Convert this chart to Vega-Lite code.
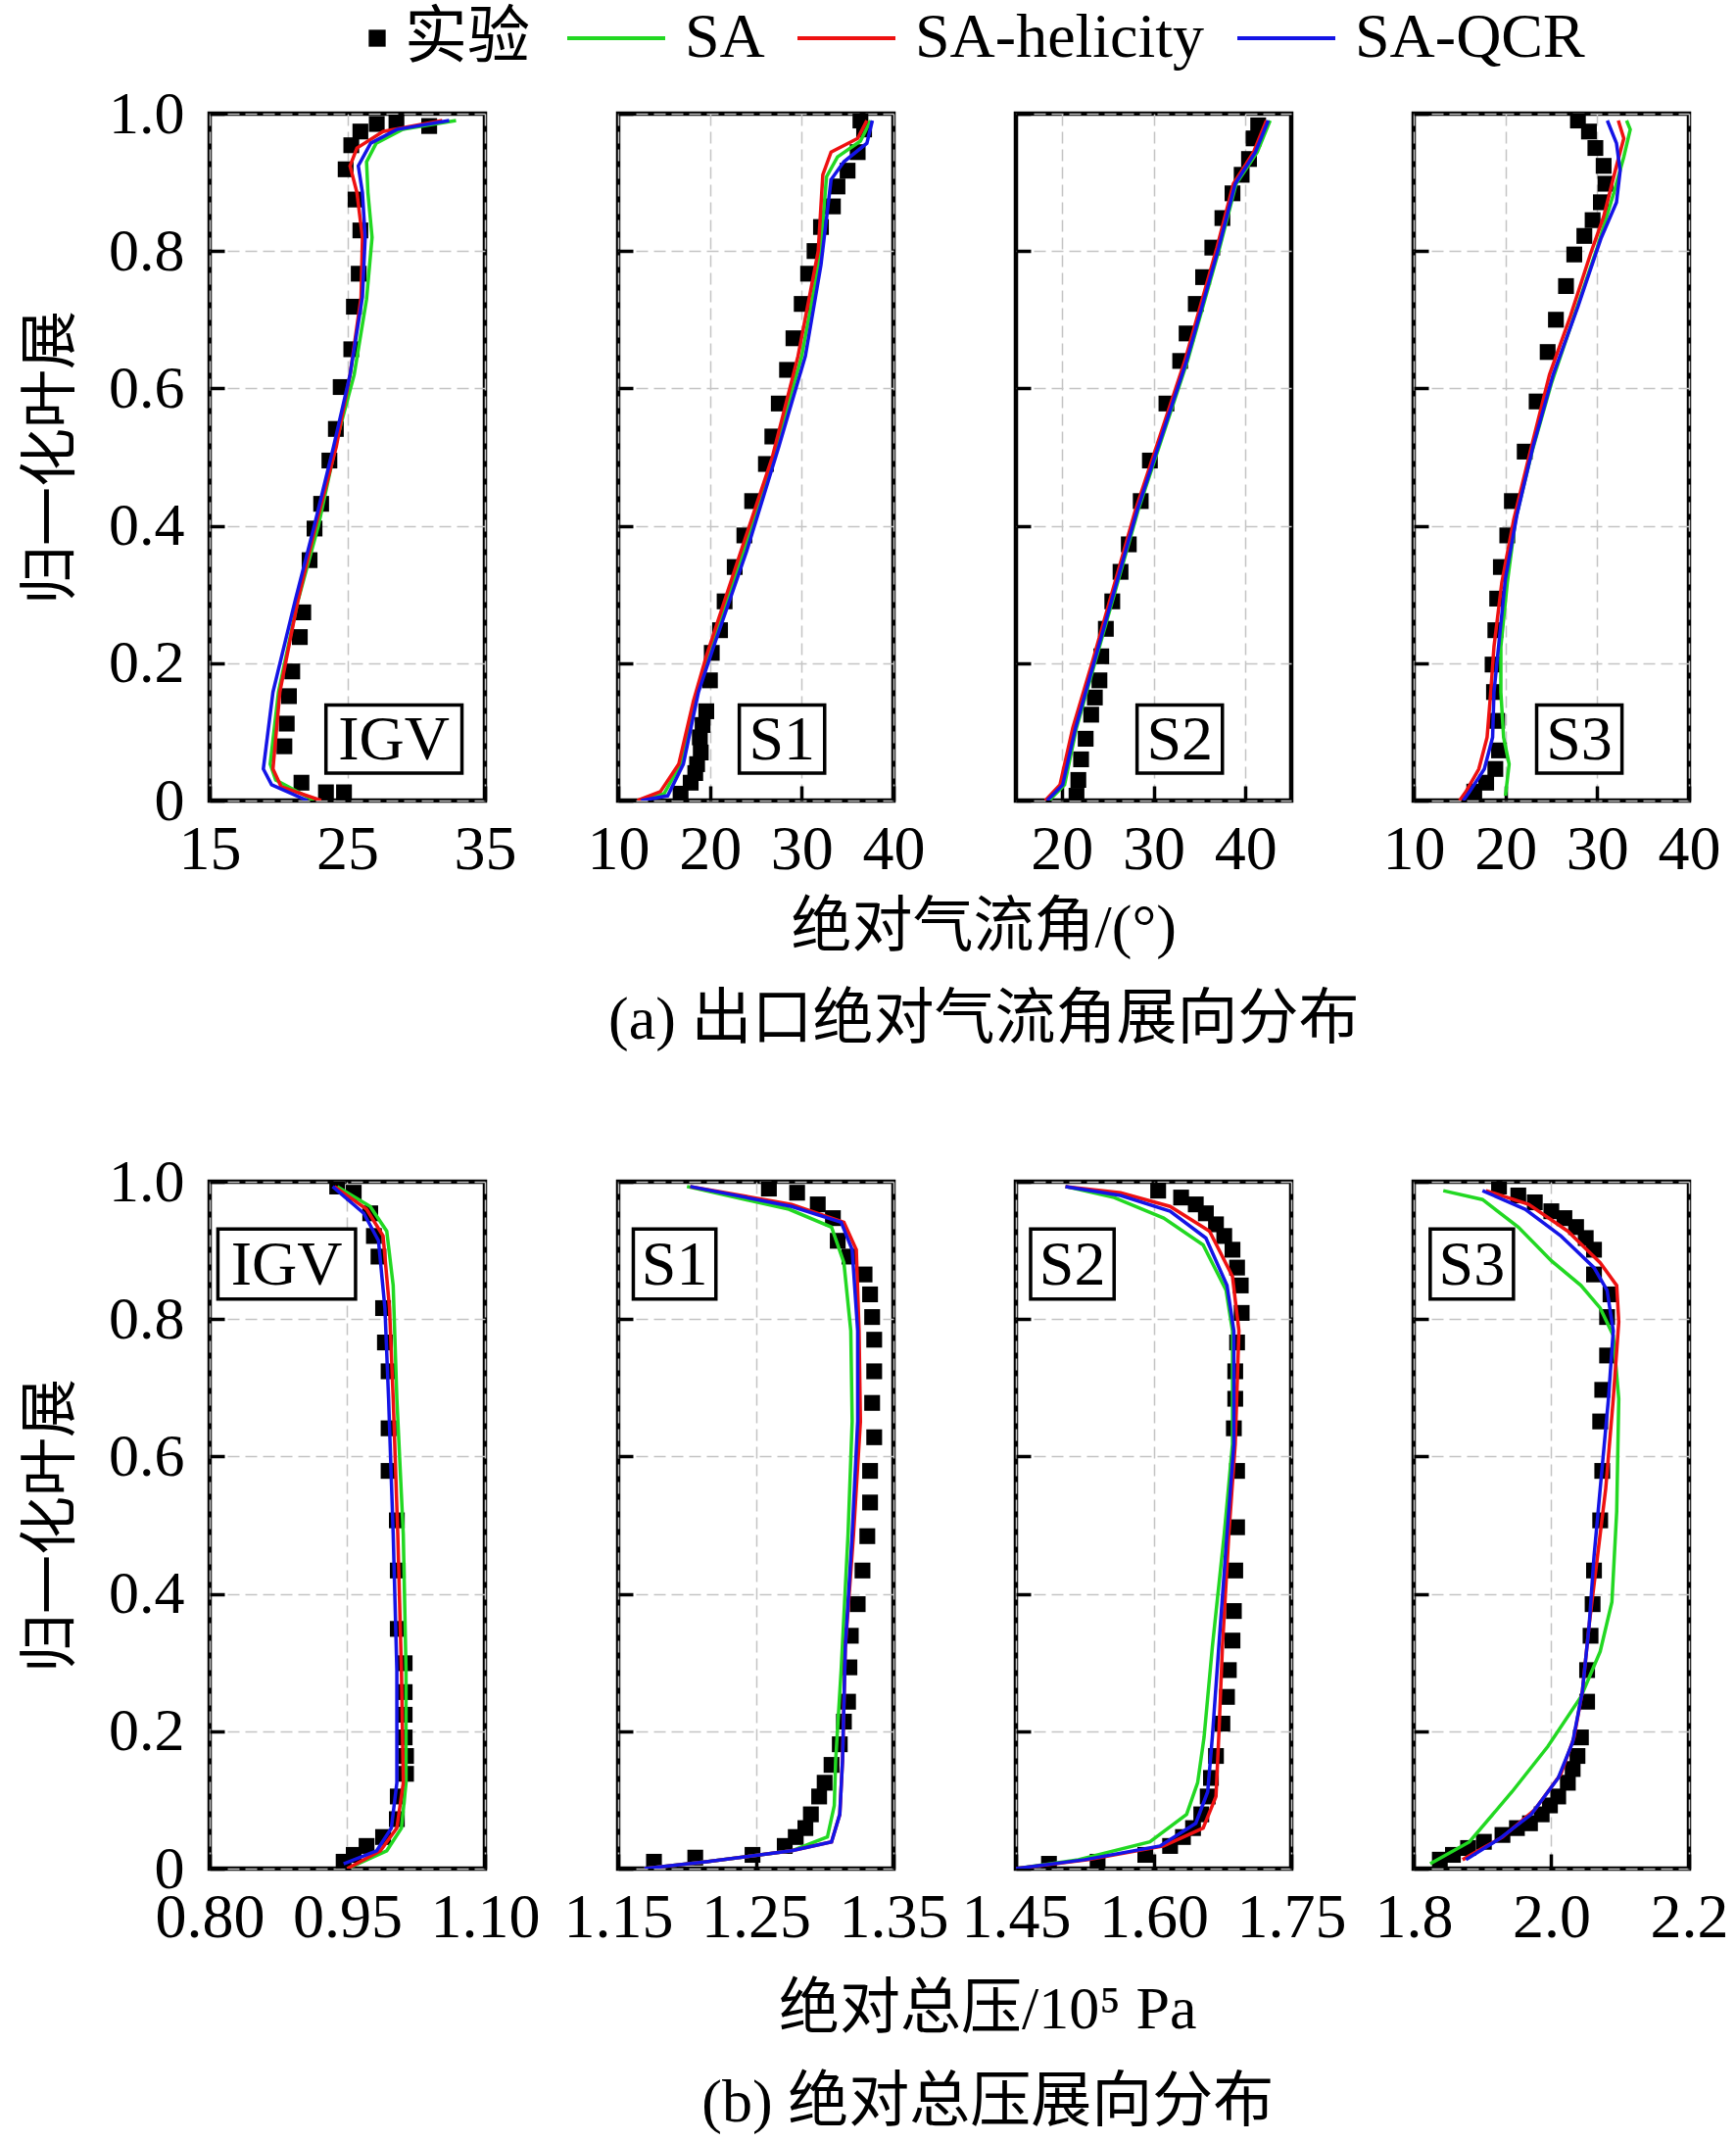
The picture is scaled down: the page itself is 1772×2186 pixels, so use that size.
{
  "$schema": "https://vega.github.io/schema/vega-lite/v6.json",
  "padding": {"left": 20, "top": 7, "right": 0, "bottom": 0},
  "background": "white",
  "datasets": {
    "a": [
      {"p":"IGV","s":"实验","x":24.76,"y":0.012},{"p":"IGV","s":"实验","x":23.45,"y":0.012},{"p":"IGV","s":"实验","x":21.67,"y":0.026},{"p":"IGV","s":"实验","x":20.43,"y":0.079},{"p":"IGV","s":"实验","x":20.6,"y":0.112},{"p":"IGV","s":"实验","x":20.76,"y":0.152},{"p":"IGV","s":"实验","x":21.0,"y":0.188},{"p":"IGV","s":"实验","x":21.55,"y":0.238},{"p":"IGV","s":"实验","x":21.8,"y":0.274},{"p":"IGV","s":"实验","x":22.26,"y":0.35},{"p":"IGV","s":"实验","x":22.62,"y":0.396},{"p":"IGV","s":"实验","x":23.1,"y":0.432},{"p":"IGV","s":"实验","x":23.7,"y":0.495},{"p":"IGV","s":"实验","x":24.17,"y":0.541},{"p":"IGV","s":"实验","x":24.52,"y":0.602},{"p":"IGV","s":"实验","x":25.29,"y":0.657},{"p":"IGV","s":"实验","x":25.48,"y":0.719},{"p":"IGV","s":"实验","x":25.83,"y":0.767},{"p":"IGV","s":"实验","x":25.95,"y":0.83},{"p":"IGV","s":"实验","x":25.6,"y":0.875},{"p":"IGV","s":"实验","x":24.88,"y":0.919},{"p":"IGV","s":"实验","x":25.29,"y":0.954},{"p":"IGV","s":"实验","x":25.95,"y":0.974},{"p":"IGV","s":"实验","x":27.14,"y":0.985},{"p":"IGV","s":"实验","x":28.57,"y":0.987},{"p":"IGV","s":"实验","x":30.95,"y":0.982},
      {"p":"IGV","s":"SA","x":22.6,"y":0},{"p":"IGV","s":"SA","x":19.8,"y":0.03},{"p":"IGV","s":"SA","x":19.4,"y":0.053},{"p":"IGV","s":"SA","x":20.0,"y":0.158},{"p":"IGV","s":"SA","x":21.4,"y":0.29},{"p":"IGV","s":"SA","x":22.9,"y":0.4},{"p":"IGV","s":"SA","x":24.3,"y":0.53},{"p":"IGV","s":"SA","x":25.5,"y":0.62},{"p":"IGV","s":"SA","x":26.4,"y":0.73},{"p":"IGV","s":"SA","x":26.8,"y":0.82},{"p":"IGV","s":"SA","x":26.5,"y":0.885},{"p":"IGV","s":"SA","x":26.4,"y":0.93},{"p":"IGV","s":"SA","x":27.1,"y":0.957},{"p":"IGV","s":"SA","x":29.0,"y":0.977},{"p":"IGV","s":"SA","x":32.9,"y":0.99},
      {"p":"IGV","s":"SA-helicity","x":23.1,"y":0},{"p":"IGV","s":"SA-helicity","x":20.2,"y":0.02},{"p":"IGV","s":"SA-helicity","x":19.6,"y":0.046},{"p":"IGV","s":"SA-helicity","x":20.1,"y":0.158},{"p":"IGV","s":"SA-helicity","x":21.4,"y":0.29},{"p":"IGV","s":"SA-helicity","x":22.7,"y":0.4},{"p":"IGV","s":"SA-helicity","x":24.2,"y":0.515},{"p":"IGV","s":"SA-helicity","x":25.2,"y":0.62},{"p":"IGV","s":"SA-helicity","x":26.0,"y":0.733},{"p":"IGV","s":"SA-helicity","x":26.1,"y":0.82},{"p":"IGV","s":"SA-helicity","x":25.7,"y":0.885},{"p":"IGV","s":"SA-helicity","x":25.2,"y":0.924},{"p":"IGV","s":"SA-helicity","x":25.7,"y":0.95},{"p":"IGV","s":"SA-helicity","x":27.6,"y":0.974},{"p":"IGV","s":"SA-helicity","x":31.9,"y":0.99},
      {"p":"IGV","s":"SA-QCR","x":22.1,"y":0},{"p":"IGV","s":"SA-QCR","x":19.5,"y":0.023},{"p":"IGV","s":"SA-QCR","x":18.9,"y":0.046},{"p":"IGV","s":"SA-QCR","x":19.6,"y":0.158},{"p":"IGV","s":"SA-QCR","x":21.2,"y":0.29},{"p":"IGV","s":"SA-QCR","x":22.6,"y":0.4},{"p":"IGV","s":"SA-QCR","x":24.0,"y":0.515},{"p":"IGV","s":"SA-QCR","x":25.2,"y":0.62},{"p":"IGV","s":"SA-QCR","x":26.1,"y":0.733},{"p":"IGV","s":"SA-QCR","x":26.3,"y":0.82},{"p":"IGV","s":"SA-QCR","x":26.1,"y":0.885},{"p":"IGV","s":"SA-QCR","x":25.8,"y":0.924},{"p":"IGV","s":"SA-QCR","x":26.7,"y":0.957},{"p":"IGV","s":"SA-QCR","x":28.6,"y":0.977},{"p":"IGV","s":"SA-QCR","x":32.4,"y":0.99},

      {"p":"S1","s":"实验","x":16.8,"y":0.01},{"p":"S1","s":"实验","x":17.9,"y":0.026},{"p":"S1","s":"实验","x":18.4,"y":0.04},{"p":"S1","s":"实验","x":18.6,"y":0.053},{"p":"S1","s":"实验","x":19.0,"y":0.07},{"p":"S1","s":"实验","x":18.9,"y":0.092},{"p":"S1","s":"实验","x":19.2,"y":0.11},{"p":"S1","s":"实验","x":19.6,"y":0.13},{"p":"S1","s":"实验","x":20.0,"y":0.175},{"p":"S1","s":"实验","x":20.2,"y":0.215},{"p":"S1","s":"实验","x":21.1,"y":0.248},{"p":"S1","s":"实验","x":21.6,"y":0.29},{"p":"S1","s":"实验","x":22.7,"y":0.34},{"p":"S1","s":"实验","x":23.75,"y":0.386},{"p":"S1","s":"实验","x":24.6,"y":0.436},{"p":"S1","s":"实验","x":26.1,"y":0.49},{"p":"S1","s":"实验","x":26.8,"y":0.53},{"p":"S1","s":"实验","x":27.5,"y":0.578},{"p":"S1","s":"实验","x":28.4,"y":0.627},{"p":"S1","s":"实验","x":29.1,"y":0.673},{"p":"S1","s":"实验","x":30.0,"y":0.723},{"p":"S1","s":"实验","x":30.7,"y":0.767},{"p":"S1","s":"实验","x":31.4,"y":0.8},{"p":"S1","s":"实验","x":32.1,"y":0.835},{"p":"S1","s":"实验","x":33.4,"y":0.865},{"p":"S1","s":"实验","x":33.9,"y":0.894},{"p":"S1","s":"实验","x":35.0,"y":0.917},{"p":"S1","s":"实验","x":36.1,"y":0.944},{"p":"S1","s":"实验","x":36.8,"y":0.977},{"p":"S1","s":"实验","x":36.4,"y":0.99},
      {"p":"S1","s":"SA","x":12.3,"y":0},{"p":"S1","s":"SA","x":15.0,"y":0.01},{"p":"S1","s":"SA","x":16.8,"y":0.053},{"p":"S1","s":"SA","x":18.4,"y":0.145},{"p":"S1","s":"SA","x":20.0,"y":0.218},{"p":"S1","s":"SA","x":23.6,"y":0.36},{"p":"S1","s":"SA","x":27.1,"y":0.508},{"p":"S1","s":"SA","x":30.0,"y":0.647},{"p":"S1","s":"SA","x":32.0,"y":0.792},{"p":"S1","s":"SA","x":32.7,"y":0.908},{"p":"S1","s":"SA","x":33.9,"y":0.937},{"p":"S1","s":"SA","x":36.4,"y":0.96},{"p":"S1","s":"SA","x":37.5,"y":0.99},
      {"p":"S1","s":"SA-helicity","x":12.1,"y":0},{"p":"S1","s":"SA-helicity","x":14.6,"y":0.013},{"p":"S1","s":"SA-helicity","x":16.6,"y":0.053},{"p":"S1","s":"SA-helicity","x":18.2,"y":0.145},{"p":"S1","s":"SA-helicity","x":19.6,"y":0.21},{"p":"S1","s":"SA-helicity","x":23.2,"y":0.356},{"p":"S1","s":"SA-helicity","x":26.8,"y":0.5},{"p":"S1","s":"SA-helicity","x":29.6,"y":0.647},{"p":"S1","s":"SA-helicity","x":31.8,"y":0.8},{"p":"S1","s":"SA-helicity","x":32.3,"y":0.911},{"p":"S1","s":"SA-helicity","x":33.2,"y":0.944},{"p":"S1","s":"SA-helicity","x":36.1,"y":0.964},{"p":"S1","s":"SA-helicity","x":37.1,"y":0.99},
      {"p":"S1","s":"SA-QCR","x":12.5,"y":0},{"p":"S1","s":"SA-QCR","x":15.4,"y":0.007},{"p":"S1","s":"SA-QCR","x":17.1,"y":0.053},{"p":"S1","s":"SA-QCR","x":18.75,"y":0.158},{"p":"S1","s":"SA-QCR","x":20.4,"y":0.224},{"p":"S1","s":"SA-QCR","x":24.0,"y":0.363},{"p":"S1","s":"SA-QCR","x":27.5,"y":0.515},{"p":"S1","s":"SA-QCR","x":30.4,"y":0.647},{"p":"S1","s":"SA-QCR","x":32.1,"y":0.78},{"p":"S1","s":"SA-QCR","x":33.2,"y":0.904},{"p":"S1","s":"SA-QCR","x":34.6,"y":0.93},{"p":"S1","s":"SA-QCR","x":37.1,"y":0.957},{"p":"S1","s":"SA-QCR","x":37.7,"y":0.99},

      {"p":"S2","s":"实验","x":21.6,"y":0.007},{"p":"S2","s":"实验","x":21.8,"y":0.03},{"p":"S2","s":"实验","x":22.1,"y":0.06},{"p":"S2","s":"实验","x":22.6,"y":0.09},{"p":"S2","s":"实验","x":23.2,"y":0.125},{"p":"S2","s":"实验","x":23.6,"y":0.15},{"p":"S2","s":"实验","x":24.1,"y":0.175},{"p":"S2","s":"实验","x":24.3,"y":0.21},{"p":"S2","s":"实验","x":24.8,"y":0.25},{"p":"S2","s":"实验","x":25.5,"y":0.29},{"p":"S2","s":"实验","x":26.4,"y":0.333},{"p":"S2","s":"实验","x":27.3,"y":0.373},{"p":"S2","s":"实验","x":28.6,"y":0.436},{"p":"S2","s":"实验","x":29.6,"y":0.495},{"p":"S2","s":"实验","x":31.4,"y":0.578},{"p":"S2","s":"实验","x":32.9,"y":0.64},{"p":"S2","s":"实验","x":33.6,"y":0.68},{"p":"S2","s":"实验","x":34.6,"y":0.723},{"p":"S2","s":"实验","x":35.4,"y":0.762},{"p":"S2","s":"实验","x":36.4,"y":0.805},{"p":"S2","s":"实验","x":37.5,"y":0.848},{"p":"S2","s":"实验","x":38.6,"y":0.884},{"p":"S2","s":"实验","x":39.6,"y":0.911},{"p":"S2","s":"实验","x":40.4,"y":0.934},{"p":"S2","s":"实验","x":40.9,"y":0.964},{"p":"S2","s":"实验","x":41.4,"y":0.983},
      {"p":"S2","s":"SA","x":18.6,"y":0},{"p":"S2","s":"SA","x":20.3,"y":0.023},{"p":"S2","s":"SA","x":21.6,"y":0.106},{"p":"S2","s":"SA","x":23.7,"y":0.205},{"p":"S2","s":"SA","x":28.3,"y":0.422},{"p":"S2","s":"SA","x":33.7,"y":0.64},{"p":"S2","s":"SA","x":37.2,"y":0.805},{"p":"S2","s":"SA","x":39.0,"y":0.898},{"p":"S2","s":"SA","x":41.3,"y":0.944},{"p":"S2","s":"SA","x":42.7,"y":0.99},
      {"p":"S2","s":"SA-helicity","x":18.2,"y":0},{"p":"S2","s":"SA-helicity","x":19.8,"y":0.023},{"p":"S2","s":"SA-helicity","x":21.2,"y":0.106},{"p":"S2","s":"SA-helicity","x":23.4,"y":0.205},{"p":"S2","s":"SA-helicity","x":28.0,"y":0.422},{"p":"S2","s":"SA-helicity","x":33.4,"y":0.64},{"p":"S2","s":"SA-helicity","x":36.9,"y":0.805},{"p":"S2","s":"SA-helicity","x":38.7,"y":0.898},{"p":"S2","s":"SA-helicity","x":40.9,"y":0.944},{"p":"S2","s":"SA-helicity","x":42.3,"y":0.99},
      {"p":"S2","s":"SA-QCR","x":18.4,"y":0},{"p":"S2","s":"SA-QCR","x":20.1,"y":0.023},{"p":"S2","s":"SA-QCR","x":21.5,"y":0.106},{"p":"S2","s":"SA-QCR","x":23.6,"y":0.205},{"p":"S2","s":"SA-QCR","x":28.2,"y":0.422},{"p":"S2","s":"SA-QCR","x":33.6,"y":0.64},{"p":"S2","s":"SA-QCR","x":37.1,"y":0.805},{"p":"S2","s":"SA-QCR","x":38.9,"y":0.898},{"p":"S2","s":"SA-QCR","x":41.1,"y":0.944},{"p":"S2","s":"SA-QCR","x":42.5,"y":0.99},

      {"p":"S3","s":"实验","x":16.6,"y":0.013},{"p":"S3","s":"实验","x":17.9,"y":0.026},{"p":"S3","s":"实验","x":18.9,"y":0.046},{"p":"S3","s":"实验","x":19.3,"y":0.073},{"p":"S3","s":"实验","x":19.1,"y":0.116},{"p":"S3","s":"实验","x":18.75,"y":0.158},{"p":"S3","s":"实验","x":18.6,"y":0.198},{"p":"S3","s":"实验","x":18.9,"y":0.248},{"p":"S3","s":"实验","x":19.1,"y":0.294},{"p":"S3","s":"实验","x":19.5,"y":0.34},{"p":"S3","s":"实验","x":20.2,"y":0.386},{"p":"S3","s":"实验","x":20.7,"y":0.436},{"p":"S3","s":"实验","x":22.1,"y":0.508},{"p":"S3","s":"实验","x":23.4,"y":0.581},{"p":"S3","s":"实验","x":24.6,"y":0.653},{"p":"S3","s":"实验","x":25.5,"y":0.7},{"p":"S3","s":"实验","x":26.6,"y":0.749},{"p":"S3","s":"实验","x":27.5,"y":0.795},{"p":"S3","s":"实验","x":28.6,"y":0.822},{"p":"S3","s":"实验","x":29.5,"y":0.845},{"p":"S3","s":"实验","x":30.4,"y":0.871},{"p":"S3","s":"实验","x":30.9,"y":0.898},{"p":"S3","s":"实验","x":30.7,"y":0.924},{"p":"S3","s":"实验","x":29.8,"y":0.95},{"p":"S3","s":"实验","x":29.1,"y":0.974},{"p":"S3","s":"实验","x":27.9,"y":0.99},
      {"p":"S3","s":"SA","x":20.0,"y":0.007},{"p":"S3","s":"SA","x":20.4,"y":0.053},{"p":"S3","s":"SA","x":19.8,"y":0.092},{"p":"S3","s":"SA","x":19.5,"y":0.158},{"p":"S3","s":"SA","x":19.5,"y":0.224},{"p":"S3","s":"SA","x":20.2,"y":0.317},{"p":"S3","s":"SA","x":21.1,"y":0.409},{"p":"S3","s":"SA","x":22.9,"y":0.508},{"p":"S3","s":"SA","x":25.0,"y":0.607},{"p":"S3","s":"SA","x":27.5,"y":0.706},{"p":"S3","s":"SA","x":30.0,"y":0.805},{"p":"S3","s":"SA","x":31.8,"y":0.884},{"p":"S3","s":"SA","x":32.9,"y":0.937},{"p":"S3","s":"SA","x":33.6,"y":0.977},{"p":"S3","s":"SA","x":33.2,"y":0.99},
      {"p":"S3","s":"SA-helicity","x":15.0,"y":0},{"p":"S3","s":"SA-helicity","x":15.7,"y":0.013},{"p":"S3","s":"SA-helicity","x":17.1,"y":0.046},{"p":"S3","s":"SA-helicity","x":18.0,"y":0.092},{"p":"S3","s":"SA-helicity","x":18.4,"y":0.158},{"p":"S3","s":"SA-helicity","x":18.75,"y":0.224},{"p":"S3","s":"SA-helicity","x":19.6,"y":0.317},{"p":"S3","s":"SA-helicity","x":20.9,"y":0.409},{"p":"S3","s":"SA-helicity","x":22.7,"y":0.508},{"p":"S3","s":"SA-helicity","x":24.8,"y":0.62},{"p":"S3","s":"SA-helicity","x":27.1,"y":0.706},{"p":"S3","s":"SA-helicity","x":29.3,"y":0.797},{"p":"S3","s":"SA-helicity","x":30.7,"y":0.85},{"p":"S3","s":"SA-helicity","x":32.1,"y":0.924},{"p":"S3","s":"SA-helicity","x":32.9,"y":0.964},{"p":"S3","s":"SA-helicity","x":32.3,"y":0.99},
      {"p":"S3","s":"SA-QCR","x":15.4,"y":0},{"p":"S3","s":"SA-QCR","x":16.1,"y":0.013},{"p":"S3","s":"SA-QCR","x":17.7,"y":0.046},{"p":"S3","s":"SA-QCR","x":18.6,"y":0.092},{"p":"S3","s":"SA-QCR","x":18.75,"y":0.158},{"p":"S3","s":"SA-QCR","x":19.3,"y":0.231},{"p":"S3","s":"SA-QCR","x":20.0,"y":0.323},{"p":"S3","s":"SA-QCR","x":21.25,"y":0.416},{"p":"S3","s":"SA-QCR","x":23.0,"y":0.515},{"p":"S3","s":"SA-QCR","x":25.2,"y":0.62},{"p":"S3","s":"SA-QCR","x":27.9,"y":0.719},{"p":"S3","s":"SA-QCR","x":30.4,"y":0.818},{"p":"S3","s":"SA-QCR","x":32.1,"y":0.871},{"p":"S3","s":"SA-QCR","x":32.5,"y":0.917},{"p":"S3","s":"SA-QCR","x":32.1,"y":0.957},{"p":"S3","s":"SA-QCR","x":31.1,"y":0.99}
    ],
    "b": [
      {"p":"IGV","s":"实验","x":0.946,"y":0.01},{"p":"IGV","s":"实验","x":0.957,"y":0.02},{"p":"IGV","s":"实验","x":0.971,"y":0.033},{"p":"IGV","s":"实验","x":0.989,"y":0.046},{"p":"IGV","s":"实验","x":1.004,"y":0.072},{"p":"IGV","s":"实验","x":1.005,"y":0.105},{"p":"IGV","s":"实验","x":1.014,"y":0.138},{"p":"IGV","s":"实验","x":1.014,"y":0.164},{"p":"IGV","s":"实验","x":1.0125,"y":0.191},{"p":"IGV","s":"实验","x":1.0125,"y":0.224},{"p":"IGV","s":"实验","x":1.0125,"y":0.257},{"p":"IGV","s":"实验","x":1.0125,"y":0.299},{"p":"IGV","s":"实验","x":1.005,"y":0.349},{"p":"IGV","s":"实验","x":1.005,"y":0.434},{"p":"IGV","s":"实验","x":1.004,"y":0.507},{"p":"IGV","s":"实验","x":0.995,"y":0.579},{"p":"IGV","s":"实验","x":0.995,"y":0.641},{"p":"IGV","s":"实验","x":0.995,"y":0.724},{"p":"IGV","s":"实验","x":0.991,"y":0.766},{"p":"IGV","s":"实验","x":0.989,"y":0.816},{"p":"IGV","s":"实验","x":0.984,"y":0.891},{"p":"IGV","s":"实验","x":0.979,"y":0.921},{"p":"IGV","s":"实验","x":0.975,"y":0.954},{"p":"IGV","s":"实验","x":0.957,"y":0.984},{"p":"IGV","s":"实验","x":0.939,"y":0.993},
      {"p":"IGV","s":"SA","x":0.95,"y":0},{"p":"IGV","s":"SA","x":0.993,"y":0.026},{"p":"IGV","s":"SA","x":1.009,"y":0.059},{"p":"IGV","s":"SA","x":1.014,"y":0.125},{"p":"IGV","s":"SA","x":1.014,"y":0.289},{"p":"IGV","s":"SA","x":1.011,"y":0.487},{"p":"IGV","s":"SA","x":1.004,"y":0.684},{"p":"IGV","s":"SA","x":1.0,"y":0.849},{"p":"IGV","s":"SA","x":0.993,"y":0.928},{"p":"IGV","s":"SA","x":0.975,"y":0.964},{"p":"IGV","s":"SA","x":0.939,"y":0.993},
      {"p":"IGV","s":"SA-helicity","x":0.95,"y":0},{"p":"IGV","s":"SA-helicity","x":0.986,"y":0.026},{"p":"IGV","s":"SA-helicity","x":1.004,"y":0.059},{"p":"IGV","s":"SA-helicity","x":1.011,"y":0.125},{"p":"IGV","s":"SA-helicity","x":1.009,"y":0.289},{"p":"IGV","s":"SA-helicity","x":1.005,"y":0.487},{"p":"IGV","s":"SA-helicity","x":1.0,"y":0.684},{"p":"IGV","s":"SA-helicity","x":0.996,"y":0.816},{"p":"IGV","s":"SA-helicity","x":0.989,"y":0.921},{"p":"IGV","s":"SA-helicity","x":0.971,"y":0.96},{"p":"IGV","s":"SA-helicity","x":0.936,"y":0.993},
      {"p":"IGV","s":"SA-QCR","x":0.946,"y":0.007},{"p":"IGV","s":"SA-QCR","x":0.982,"y":0.026},{"p":"IGV","s":"SA-QCR","x":0.998,"y":0.059},{"p":"IGV","s":"SA-QCR","x":1.004,"y":0.125},{"p":"IGV","s":"SA-QCR","x":1.004,"y":0.289},{"p":"IGV","s":"SA-QCR","x":1.0,"y":0.487},{"p":"IGV","s":"SA-QCR","x":0.995,"y":0.684},{"p":"IGV","s":"SA-QCR","x":0.991,"y":0.816},{"p":"IGV","s":"SA-QCR","x":0.984,"y":0.914},{"p":"IGV","s":"SA-QCR","x":0.968,"y":0.954},{"p":"IGV","s":"SA-QCR","x":0.934,"y":0.993},

      {"p":"S1","s":"实验","x":1.176,"y":0.01},{"p":"S1","s":"实验","x":1.206,"y":0.016},{"p":"S1","s":"实验","x":1.2476,"y":0.02},{"p":"S1","s":"实验","x":1.271,"y":0.033},{"p":"S1","s":"实验","x":1.279,"y":0.046},{"p":"S1","s":"实验","x":1.286,"y":0.059},{"p":"S1","s":"实验","x":1.29,"y":0.079},{"p":"S1","s":"实验","x":1.296,"y":0.105},{"p":"S1","s":"实验","x":1.3,"y":0.125},{"p":"S1","s":"实验","x":1.305,"y":0.151},{"p":"S1","s":"实验","x":1.311,"y":0.181},{"p":"S1","s":"实验","x":1.314,"y":0.214},{"p":"S1","s":"实验","x":1.317,"y":0.243},{"p":"S1","s":"实验","x":1.318,"y":0.293},{"p":"S1","s":"实验","x":1.319,"y":0.339},{"p":"S1","s":"实验","x":1.324,"y":0.385},{"p":"S1","s":"实验","x":1.3275,"y":0.434},{"p":"S1","s":"实验","x":1.331,"y":0.484},{"p":"S1","s":"实验","x":1.333,"y":0.533},{"p":"S1","s":"实验","x":1.333,"y":0.579},{"p":"S1","s":"实验","x":1.336,"y":0.628},{"p":"S1","s":"实验","x":1.3345,"y":0.678},{"p":"S1","s":"实验","x":1.336,"y":0.724},{"p":"S1","s":"实验","x":1.336,"y":0.77},{"p":"S1","s":"实验","x":1.3345,"y":0.803},{"p":"S1","s":"实验","x":1.333,"y":0.836},{"p":"S1","s":"实验","x":1.329,"y":0.865},{"p":"S1","s":"实验","x":1.318,"y":0.891},{"p":"S1","s":"实验","x":1.3095,"y":0.914},{"p":"S1","s":"实验","x":1.306,"y":0.947},{"p":"S1","s":"实验","x":1.295,"y":0.967},{"p":"S1","s":"实验","x":1.28,"y":0.984},{"p":"S1","s":"实验","x":1.2595,"y":0.99},
      {"p":"S1","s":"SA","x":1.169,"y":0},{"p":"S1","s":"SA","x":1.214,"y":0.01},{"p":"S1","s":"SA","x":1.276,"y":0.026},{"p":"S1","s":"SA","x":1.302,"y":0.046},{"p":"S1","s":"SA","x":1.307,"y":0.092},{"p":"S1","s":"SA","x":1.308,"y":0.158},{"p":"S1","s":"SA","x":1.312,"y":0.289},{"p":"S1","s":"SA","x":1.317,"y":0.487},{"p":"S1","s":"SA","x":1.32,"y":0.651},{"p":"S1","s":"SA","x":1.319,"y":0.783},{"p":"S1","s":"SA","x":1.314,"y":0.882},{"p":"S1","s":"SA","x":1.305,"y":0.934},{"p":"S1","s":"SA","x":1.274,"y":0.96},{"p":"S1","s":"SA","x":1.2,"y":0.993},
      {"p":"S1","s":"SA-helicity","x":1.169,"y":0},{"p":"S1","s":"SA-helicity","x":1.214,"y":0.01},{"p":"S1","s":"SA-helicity","x":1.276,"y":0.026},{"p":"S1","s":"SA-helicity","x":1.305,"y":0.039},{"p":"S1","s":"SA-helicity","x":1.311,"y":0.079},{"p":"S1","s":"SA-helicity","x":1.313,"y":0.158},{"p":"S1","s":"SA-helicity","x":1.315,"y":0.322},{"p":"S1","s":"SA-helicity","x":1.321,"y":0.487},{"p":"S1","s":"SA-helicity","x":1.326,"y":0.651},{"p":"S1","s":"SA-helicity","x":1.325,"y":0.783},{"p":"S1","s":"SA-helicity","x":1.323,"y":0.901},{"p":"S1","s":"SA-helicity","x":1.314,"y":0.941},{"p":"S1","s":"SA-helicity","x":1.276,"y":0.967},{"p":"S1","s":"SA-helicity","x":1.2024,"y":0.993},
      {"p":"S1","s":"SA-QCR","x":1.169,"y":0},{"p":"S1","s":"SA-QCR","x":1.214,"y":0.01},{"p":"S1","s":"SA-QCR","x":1.276,"y":0.026},{"p":"S1","s":"SA-QCR","x":1.305,"y":0.039},{"p":"S1","s":"SA-QCR","x":1.311,"y":0.079},{"p":"S1","s":"SA-QCR","x":1.313,"y":0.158},{"p":"S1","s":"SA-QCR","x":1.315,"y":0.322},{"p":"S1","s":"SA-QCR","x":1.32,"y":0.487},{"p":"S1","s":"SA-QCR","x":1.324,"y":0.651},{"p":"S1","s":"SA-QCR","x":1.324,"y":0.783},{"p":"S1","s":"SA-QCR","x":1.32,"y":0.901},{"p":"S1","s":"SA-QCR","x":1.312,"y":0.941},{"p":"S1","s":"SA-QCR","x":1.276,"y":0.964},{"p":"S1","s":"SA-QCR","x":1.2024,"y":0.993},

      {"p":"S2","s":"实验","x":1.486,"y":0.007},{"p":"S2","s":"实验","x":1.539,"y":0.01},{"p":"S2","s":"实验","x":1.591,"y":0.02},{"p":"S2","s":"实验","x":1.618,"y":0.033},{"p":"S2","s":"实验","x":1.632,"y":0.046},{"p":"S2","s":"实验","x":1.643,"y":0.059},{"p":"S2","s":"实验","x":1.652,"y":0.079},{"p":"S2","s":"实验","x":1.659,"y":0.105},{"p":"S2","s":"实验","x":1.6625,"y":0.132},{"p":"S2","s":"实验","x":1.668,"y":0.164},{"p":"S2","s":"实验","x":1.675,"y":0.211},{"p":"S2","s":"实验","x":1.68,"y":0.25},{"p":"S2","s":"实验","x":1.682,"y":0.289},{"p":"S2","s":"实验","x":1.686,"y":0.332},{"p":"S2","s":"实验","x":1.6875,"y":0.375},{"p":"S2","s":"实验","x":1.689,"y":0.434},{"p":"S2","s":"实验","x":1.691,"y":0.497},{"p":"S2","s":"实验","x":1.691,"y":0.579},{"p":"S2","s":"实验","x":1.6875,"y":0.641},{"p":"S2","s":"实验","x":1.689,"y":0.684},{"p":"S2","s":"实验","x":1.689,"y":0.724},{"p":"S2","s":"实验","x":1.691,"y":0.766},{"p":"S2","s":"实验","x":1.696,"y":0.809},{"p":"S2","s":"实验","x":1.695,"y":0.849},{"p":"S2","s":"实验","x":1.691,"y":0.875},{"p":"S2","s":"实验","x":1.686,"y":0.901},{"p":"S2","s":"实验","x":1.677,"y":0.921},{"p":"S2","s":"实验","x":1.668,"y":0.938},{"p":"S2","s":"实验","x":1.657,"y":0.954},{"p":"S2","s":"实验","x":1.646,"y":0.967},{"p":"S2","s":"实验","x":1.63,"y":0.977},{"p":"S2","s":"实验","x":1.605,"y":0.987},
      {"p":"S2","s":"SA","x":1.45,"y":0},{"p":"S2","s":"SA","x":1.518,"y":0.013},{"p":"S2","s":"SA","x":1.596,"y":0.039},{"p":"S2","s":"SA","x":1.636,"y":0.079},{"p":"S2","s":"SA","x":1.648,"y":0.125},{"p":"S2","s":"SA","x":1.655,"y":0.191},{"p":"S2","s":"SA","x":1.664,"y":0.322},{"p":"S2","s":"SA","x":1.677,"y":0.487},{"p":"S2","s":"SA","x":1.686,"y":0.618},{"p":"S2","s":"SA","x":1.686,"y":0.783},{"p":"S2","s":"SA","x":1.679,"y":0.842},{"p":"S2","s":"SA","x":1.654,"y":0.908},{"p":"S2","s":"SA","x":1.611,"y":0.947},{"p":"S2","s":"SA","x":1.557,"y":0.977},{"p":"S2","s":"SA","x":1.504,"y":0.993},
      {"p":"S2","s":"SA-helicity","x":1.45,"y":0},{"p":"S2","s":"SA-helicity","x":1.529,"y":0.013},{"p":"S2","s":"SA-helicity","x":1.611,"y":0.033},{"p":"S2","s":"SA-helicity","x":1.654,"y":0.059},{"p":"S2","s":"SA-helicity","x":1.668,"y":0.105},{"p":"S2","s":"SA-helicity","x":1.671,"y":0.191},{"p":"S2","s":"SA-helicity","x":1.675,"y":0.322},{"p":"S2","s":"SA-helicity","x":1.682,"y":0.487},{"p":"S2","s":"SA-helicity","x":1.689,"y":0.618},{"p":"S2","s":"SA-helicity","x":1.693,"y":0.783},{"p":"S2","s":"SA-helicity","x":1.686,"y":0.862},{"p":"S2","s":"SA-helicity","x":1.661,"y":0.928},{"p":"S2","s":"SA-helicity","x":1.618,"y":0.964},{"p":"S2","s":"SA-helicity","x":1.564,"y":0.984},{"p":"S2","s":"SA-helicity","x":1.504,"y":0.993},
      {"p":"S2","s":"SA-QCR","x":1.45,"y":0},{"p":"S2","s":"SA-QCR","x":1.525,"y":0.013},{"p":"S2","s":"SA-QCR","x":1.607,"y":0.033},{"p":"S2","s":"SA-QCR","x":1.646,"y":0.066},{"p":"S2","s":"SA-QCR","x":1.659,"y":0.112},{"p":"S2","s":"SA-QCR","x":1.664,"y":0.191},{"p":"S2","s":"SA-QCR","x":1.671,"y":0.322},{"p":"S2","s":"SA-QCR","x":1.68,"y":0.487},{"p":"S2","s":"SA-QCR","x":1.6875,"y":0.618},{"p":"S2","s":"SA-QCR","x":1.6875,"y":0.783},{"p":"S2","s":"SA-QCR","x":1.68,"y":0.849},{"p":"S2","s":"SA-QCR","x":1.657,"y":0.918},{"p":"S2","s":"SA-QCR","x":1.618,"y":0.957},{"p":"S2","s":"SA-QCR","x":1.564,"y":0.98},{"p":"S2","s":"SA-QCR","x":1.504,"y":0.993},

      {"p":"S3","s":"实验","x":1.838,"y":0.013},{"p":"S3","s":"实验","x":1.857,"y":0.02},{"p":"S3","s":"实验","x":1.879,"y":0.03},{"p":"S3","s":"实验","x":1.902,"y":0.039},{"p":"S3","s":"实验","x":1.929,"y":0.049},{"p":"S3","s":"实验","x":1.95,"y":0.059},{"p":"S3","s":"实验","x":1.969,"y":0.066},{"p":"S3","s":"实验","x":1.986,"y":0.079},{"p":"S3","s":"实验","x":1.998,"y":0.092},{"p":"S3","s":"实验","x":2.01,"y":0.105},{"p":"S3","s":"实验","x":2.024,"y":0.125},{"p":"S3","s":"实验","x":2.031,"y":0.145},{"p":"S3","s":"实验","x":2.038,"y":0.164},{"p":"S3","s":"实验","x":2.043,"y":0.191},{"p":"S3","s":"实验","x":2.052,"y":0.243},{"p":"S3","s":"实验","x":2.052,"y":0.289},{"p":"S3","s":"实验","x":2.057,"y":0.339},{"p":"S3","s":"实验","x":2.06,"y":0.385},{"p":"S3","s":"实验","x":2.062,"y":0.434},{"p":"S3","s":"实验","x":2.071,"y":0.507},{"p":"S3","s":"实验","x":2.074,"y":0.579},{"p":"S3","s":"实验","x":2.071,"y":0.651},{"p":"S3","s":"实验","x":2.074,"y":0.697},{"p":"S3","s":"实验","x":2.081,"y":0.747},{"p":"S3","s":"实验","x":2.081,"y":0.803},{"p":"S3","s":"实验","x":2.086,"y":0.836},{"p":"S3","s":"实验","x":2.062,"y":0.865},{"p":"S3","s":"实验","x":2.062,"y":0.901},{"p":"S3","s":"实验","x":2.05,"y":0.918},{"p":"S3","s":"实验","x":2.036,"y":0.934},{"p":"S3","s":"实验","x":2.019,"y":0.947},{"p":"S3","s":"实验","x":2.0,"y":0.957},{"p":"S3","s":"实验","x":1.976,"y":0.97},{"p":"S3","s":"实验","x":1.952,"y":0.98},{"p":"S3","s":"实验","x":1.924,"y":0.993},
      {"p":"S3","s":"SA","x":1.824,"y":0.007},{"p":"S3","s":"SA","x":1.881,"y":0.039},{"p":"S3","s":"SA","x":1.943,"y":0.112},{"p":"S3","s":"SA","x":1.995,"y":0.178},{"p":"S3","s":"SA","x":2.043,"y":0.25},{"p":"S3","s":"SA","x":2.071,"y":0.316},{"p":"S3","s":"SA","x":2.088,"y":0.388},{"p":"S3","s":"SA","x":2.095,"y":0.52},{"p":"S3","s":"SA","x":2.098,"y":0.684},{"p":"S3","s":"SA","x":2.09,"y":0.776},{"p":"S3","s":"SA","x":2.071,"y":0.816},{"p":"S3","s":"SA","x":2.043,"y":0.849},{"p":"S3","s":"SA","x":2.0,"y":0.885},{"p":"S3","s":"SA","x":1.952,"y":0.934},{"p":"S3","s":"SA","x":1.9,"y":0.974},{"p":"S3","s":"SA","x":1.843,"y":0.987},
      {"p":"S3","s":"SA-helicity","x":1.871,"y":0.013},{"p":"S3","s":"SA-helicity","x":1.929,"y":0.046},{"p":"S3","s":"SA-helicity","x":1.976,"y":0.086},{"p":"S3","s":"SA-helicity","x":2.014,"y":0.138},{"p":"S3","s":"SA-helicity","x":2.033,"y":0.191},{"p":"S3","s":"SA-helicity","x":2.045,"y":0.257},{"p":"S3","s":"SA-helicity","x":2.055,"y":0.355},{"p":"S3","s":"SA-helicity","x":2.067,"y":0.454},{"p":"S3","s":"SA-helicity","x":2.079,"y":0.553},{"p":"S3","s":"SA-helicity","x":2.09,"y":0.684},{"p":"S3","s":"SA-helicity","x":2.098,"y":0.796},{"p":"S3","s":"SA-helicity","x":2.095,"y":0.849},{"p":"S3","s":"SA-helicity","x":2.071,"y":0.882},{"p":"S3","s":"SA-helicity","x":2.024,"y":0.928},{"p":"S3","s":"SA-helicity","x":1.967,"y":0.967},{"p":"S3","s":"SA-helicity","x":1.905,"y":0.987},
      {"p":"S3","s":"SA-QCR","x":1.876,"y":0.013},{"p":"S3","s":"SA-QCR","x":1.924,"y":0.043},{"p":"S3","s":"SA-QCR","x":1.971,"y":0.079},{"p":"S3","s":"SA-QCR","x":2.01,"y":0.132},{"p":"S3","s":"SA-QCR","x":2.031,"y":0.184},{"p":"S3","s":"SA-QCR","x":2.045,"y":0.257},{"p":"S3","s":"SA-QCR","x":2.055,"y":0.355},{"p":"S3","s":"SA-QCR","x":2.062,"y":0.454},{"p":"S3","s":"SA-QCR","x":2.071,"y":0.553},{"p":"S3","s":"SA-QCR","x":2.083,"y":0.684},{"p":"S3","s":"SA-QCR","x":2.09,"y":0.783},{"p":"S3","s":"SA-QCR","x":2.081,"y":0.842},{"p":"S3","s":"SA-QCR","x":2.062,"y":0.875},{"p":"S3","s":"SA-QCR","x":2.014,"y":0.921},{"p":"S3","s":"SA-QCR","x":1.962,"y":0.96},{"p":"S3","s":"SA-QCR","x":1.9,"y":0.987}
    ]
  },
  "spacing": 1090,
  "bounds": "flush",
  "vconcat": [
    {
      "spacing": 136,
      "bounds": "flush",
      "title": {"text": "绝对气流角/(°)", "subtitle": "(a) 出口绝对气流角展向分布", "orient": "bottom", "anchor": "middle", "offset": 16, "subtitlePadding": 32, "dx": 115},
      "hconcat": [
        {
          "width": 281, "height": 701, "data": {"name": "a"},
          "layer": [
            {"transform": [{"filter": "datum.p === 'IGV' && datum.s === '实验'"}], "mark": {"type": "point", "filled": true, "size": 260, "opacity": 1, "color": "black", "clip": true},
             "encoding": {
               "x": {"field": "x", "type": "quantitative", "scale": {"domain": [15, 35], "nice": false, "zero": false}, "axis": {"values": [15, 25, 35], "format": "d", "title": null}},
               "y": {"field": "y", "type": "quantitative", "scale": {"domain": [0, 1], "nice": false}, "axis": {"values": [0, 0.2, 0.4, 0.6, 0.8, 1], "labelExpr": "datum.value === 0 ? '0' : format(datum.value, '.1f')", "title": "归一化叶展"}},
               "shape": {"field": "s", "type": "nominal", "scale": {"domain": ["实验"], "range": ["square"]},
                 "legend": {"title": null, "orient": "none", "legendX": 139, "legendY": -109, "padding": 0, "symbolSize": 300, "symbolFillColor": "black", "symbolStrokeWidth": 0, "labelFontSize": 64, "labelFont": "Liberation Serif, Noto Sans CJK SC", "labelColor": "black", "labelLimit": 1000, "labelOffset": -4}}}},
            {"transform": [{"filter": "datum.p === 'IGV' && datum.s !== '实验'"}], "mark": {"type": "line", "strokeWidth": 3.5, "clip": true},
             "encoding": {
               "x": {"field": "x", "type": "quantitative"}, "y": {"field": "y", "type": "quantitative"},
               "order": {"field": "y", "type": "quantitative"},
               "color": {"field": "s", "type": "nominal", "scale": {"domain": ["SA", "SA-helicity", "SA-QCR"], "range": ["#22d822", "#ee1111", "#1414e6"]},
                 "legend": {"title": null, "orient": "none", "legendX": 383, "legendY": -109, "direction": "horizontal", "columns": 3, "padding": 0, "symbolType": "M-5,0H5", "symbolSize": 400, "symbolStrokeWidth": 4, "labelFontSize": 64, "labelFont": "Liberation Serif, Noto Sans CJK SC", "labelColor": "black", "labelLimit": 1000, "labelOffset": 38, "columnPadding": 25}}}},
            {"transform": [{"filter": "datum.p === 'IGV'"}, {"aggregate": [{"op": "count", "as": "n"}]}], "mark": {"type": "rect", "fill": "white", "stroke": "black", "strokeWidth": 3.5}, "encoding": {"x": {"datum": 23.45, "type": "quantitative"}, "x2": {"datum": 33.33}, "y": {"datum": 0.04, "type": "quantitative"}, "y2": {"datum": 0.139}}},
            {"transform": [{"filter": "datum.p === 'IGV'"}, {"aggregate": [{"op": "count", "as": "n"}]}], "mark": {"type": "text", "text": "IGV", "font": "Liberation Serif", "fontSize": 64, "baseline": "middle", "align": "center", "dy": 2, "color": "black"}, "encoding": {"x": {"datum": 28.39, "type": "quantitative"}, "y": {"datum": 0.0895, "type": "quantitative"}}}
          ]
        },
        {
          "spacing": 125,
          "bounds": "flush",
          "hconcat": [
            {
              "width": 281, "height": 701, "data": {"name": "a"},
              "layer": [
                {"transform": [{"filter": "datum.p === 'S1' && datum.s === '实验'"}], "mark": {"type": "point", "filled": true, "size": 260, "opacity": 1, "color": "black", "clip": true},
                 "encoding": {
                   "x": {"field": "x", "type": "quantitative", "scale": {"domain": [10, 40], "nice": false, "zero": false}, "axis": {"values": [10, 20, 30, 40], "format": "d", "title": null}},
                   "y": {"field": "y", "type": "quantitative", "scale": {"domain": [0, 1], "nice": false}, "axis": {"values": [0, 0.2, 0.4, 0.6, 0.8, 1], "labels": false, "title": null}},
                   "shape": {"field": "s", "type": "nominal", "scale": {"domain": ["实验"], "range": ["square"]}}}},
                {"transform": [{"filter": "datum.p === 'S1' && datum.s !== '实验'"}], "mark": {"type": "line", "strokeWidth": 3.5, "clip": true},
                 "encoding": {"x": {"field": "x", "type": "quantitative"}, "y": {"field": "y", "type": "quantitative"}, "order": {"field": "y", "type": "quantitative"}, "color": {"field": "s", "type": "nominal", "scale": {"domain": ["SA", "SA-helicity", "SA-QCR"], "range": ["#22d822", "#ee1111", "#1414e6"]}}}},
                {"transform": [{"filter": "datum.p === 'S1'"}, {"aggregate": [{"op": "count", "as": "n"}]}], "mark": {"type": "rect", "fill": "white", "stroke": "black", "strokeWidth": 3.5}, "encoding": {"x": {"datum": 23.2, "type": "quantitative"}, "x2": {"datum": 32.5}, "y": {"datum": 0.04, "type": "quantitative"}, "y2": {"datum": 0.139}}},
                {"transform": [{"filter": "datum.p === 'S1'"}, {"aggregate": [{"op": "count", "as": "n"}]}], "mark": {"type": "text", "text": "S1", "font": "Liberation Serif", "fontSize": 64, "baseline": "middle", "align": "center", "dy": 2, "color": "black"}, "encoding": {"x": {"datum": 27.85, "type": "quantitative"}, "y": {"datum": 0.0895, "type": "quantitative"}}}
              ]
            },
            {
              "width": 281, "height": 701, "data": {"name": "a"},
              "layer": [
                {"transform": [{"filter": "datum.p === 'S2' && datum.s === '实验'"}], "mark": {"type": "point", "filled": true, "size": 260, "opacity": 1, "color": "black", "clip": true},
                 "encoding": {
                   "x": {"field": "x", "type": "quantitative", "scale": {"domain": [15, 45], "nice": false, "zero": false}, "axis": {"values": [20, 30, 40], "format": "d", "title": null}},
                   "y": {"field": "y", "type": "quantitative", "scale": {"domain": [0, 1], "nice": false}, "axis": {"values": [0, 0.2, 0.4, 0.6, 0.8, 1], "labels": false, "title": null}},
                   "shape": {"field": "s", "type": "nominal", "scale": {"domain": ["实验"], "range": ["square"]}}}},
                {"transform": [{"filter": "datum.p === 'S2' && datum.s !== '实验'"}], "mark": {"type": "line", "strokeWidth": 3.5, "clip": true},
                 "encoding": {"x": {"field": "x", "type": "quantitative"}, "y": {"field": "y", "type": "quantitative"}, "order": {"field": "y", "type": "quantitative"}, "color": {"field": "s", "type": "nominal", "scale": {"domain": ["SA", "SA-helicity", "SA-QCR"], "range": ["#22d822", "#ee1111", "#1414e6"]}}}},
                {"transform": [{"filter": "datum.p === 'S2'"}, {"aggregate": [{"op": "count", "as": "n"}]}], "mark": {"type": "rect", "fill": "white", "stroke": "black", "strokeWidth": 3.5}, "encoding": {"x": {"datum": 28.2, "type": "quantitative"}, "x2": {"datum": 37.5}, "y": {"datum": 0.04, "type": "quantitative"}, "y2": {"datum": 0.139}}},
                {"transform": [{"filter": "datum.p === 'S2'"}, {"aggregate": [{"op": "count", "as": "n"}]}], "mark": {"type": "text", "text": "S2", "font": "Liberation Serif", "fontSize": 64, "baseline": "middle", "align": "center", "dy": 2, "color": "black"}, "encoding": {"x": {"datum": 32.85, "type": "quantitative"}, "y": {"datum": 0.0895, "type": "quantitative"}}}
              ]
            },
            {
              "width": 281, "height": 701, "data": {"name": "a"},
              "layer": [
                {"transform": [{"filter": "datum.p === 'S3' && datum.s === '实验'"}], "mark": {"type": "point", "filled": true, "size": 260, "opacity": 1, "color": "black", "clip": true},
                 "encoding": {
                   "x": {"field": "x", "type": "quantitative", "scale": {"domain": [10, 40], "nice": false, "zero": false}, "axis": {"values": [10, 20, 30, 40], "format": "d", "title": null}},
                   "y": {"field": "y", "type": "quantitative", "scale": {"domain": [0, 1], "nice": false}, "axis": {"values": [0, 0.2, 0.4, 0.6, 0.8, 1], "labels": false, "title": null}},
                   "shape": {"field": "s", "type": "nominal", "scale": {"domain": ["实验"], "range": ["square"]}}}},
                {"transform": [{"filter": "datum.p === 'S3' && datum.s !== '实验'"}], "mark": {"type": "line", "strokeWidth": 3.5, "clip": true},
                 "encoding": {"x": {"field": "x", "type": "quantitative"}, "y": {"field": "y", "type": "quantitative"}, "order": {"field": "y", "type": "quantitative"}, "color": {"field": "s", "type": "nominal", "scale": {"domain": ["SA", "SA-helicity", "SA-QCR"], "range": ["#22d822", "#ee1111", "#1414e6"]}}}},
                {"transform": [{"filter": "datum.p === 'S3'"}, {"aggregate": [{"op": "count", "as": "n"}]}], "mark": {"type": "rect", "fill": "white", "stroke": "black", "strokeWidth": 3.5}, "encoding": {"x": {"datum": 23.4, "type": "quantitative"}, "x2": {"datum": 32.7}, "y": {"datum": 0.04, "type": "quantitative"}, "y2": {"datum": 0.139}}},
                {"transform": [{"filter": "datum.p === 'S3'"}, {"aggregate": [{"op": "count", "as": "n"}]}], "mark": {"type": "text", "text": "S3", "font": "Liberation Serif", "fontSize": 64, "baseline": "middle", "align": "center", "dy": 2, "color": "black"}, "encoding": {"x": {"datum": 28.05, "type": "quantitative"}, "y": {"datum": 0.0895, "type": "quantitative"}}}
              ]
            }
          ]
        }
      ]
    },
    {
      "spacing": 136,
      "bounds": "flush",
      "title": {"text": "绝对总压/10⁵ Pa", "subtitle": "(b) 绝对总压展向分布", "orient": "bottom", "anchor": "middle", "offset": 30, "subtitlePadding": 33, "dx": 115},
      "hconcat": [
        {
          "width": 281, "height": 701, "data": {"name": "b"},
          "layer": [
            {"transform": [{"filter": "datum.p === 'IGV' && datum.s === '实验'"}], "mark": {"type": "point", "filled": true, "size": 260, "opacity": 1, "color": "black", "clip": true},
             "encoding": {
               "x": {"field": "x", "type": "quantitative", "scale": {"domain": [0.8, 1.1], "nice": false, "zero": false}, "axis": {"values": [0.8, 0.95, 1.1], "format": ".2f", "title": null}},
               "y": {"field": "y", "type": "quantitative", "scale": {"domain": [0, 1], "nice": false}, "axis": {"values": [0, 0.2, 0.4, 0.6, 0.8, 1], "labelExpr": "datum.value === 0 ? '0' : format(datum.value, '.1f')", "title": "归一化叶展"}},
               "shape": {"field": "s", "type": "nominal", "scale": {"domain": ["实验"], "range": ["square"]}}}},
            {"transform": [{"filter": "datum.p === 'IGV' && datum.s !== '实验'"}], "mark": {"type": "line", "strokeWidth": 3.5, "clip": true},
             "encoding": {"x": {"field": "x", "type": "quantitative"}, "y": {"field": "y", "type": "quantitative"}, "order": {"field": "y", "type": "quantitative"}, "color": {"field": "s", "type": "nominal", "scale": {"domain": ["SA", "SA-helicity", "SA-QCR"], "range": ["#22d822", "#ee1111", "#1414e6"]}}}},
            {"transform": [{"filter": "datum.p === 'IGV'"}, {"aggregate": [{"op": "count", "as": "n"}]}], "mark": {"type": "rect", "fill": "white", "stroke": "black", "strokeWidth": 3.5}, "encoding": {"x": {"datum": 0.809, "type": "quantitative"}, "x2": {"datum": 0.959}, "y": {"datum": 0.829, "type": "quantitative"}, "y2": {"datum": 0.931}}},
            {"transform": [{"filter": "datum.p === 'IGV'"}, {"aggregate": [{"op": "count", "as": "n"}]}], "mark": {"type": "text", "text": "IGV", "font": "Liberation Serif", "fontSize": 64, "baseline": "middle", "align": "center", "dy": 2, "color": "black"}, "encoding": {"x": {"datum": 0.884, "type": "quantitative"}, "y": {"datum": 0.88, "type": "quantitative"}}}
          ]
        },
        {
          "spacing": 125,
          "bounds": "flush",
          "hconcat": [
            {
              "width": 281, "height": 701, "data": {"name": "b"},
              "layer": [
                {"transform": [{"filter": "datum.p === 'S1' && datum.s === '实验'"}], "mark": {"type": "point", "filled": true, "size": 260, "opacity": 1, "color": "black", "clip": true},
                 "encoding": {
                   "x": {"field": "x", "type": "quantitative", "scale": {"domain": [1.15, 1.35], "nice": false, "zero": false}, "axis": {"values": [1.15, 1.25, 1.35], "format": ".2f", "title": null}},
                   "y": {"field": "y", "type": "quantitative", "scale": {"domain": [0, 1], "nice": false}, "axis": {"values": [0, 0.2, 0.4, 0.6, 0.8, 1], "labels": false, "title": null}},
                   "shape": {"field": "s", "type": "nominal", "scale": {"domain": ["实验"], "range": ["square"]}}}},
                {"transform": [{"filter": "datum.p === 'S1' && datum.s !== '实验'"}], "mark": {"type": "line", "strokeWidth": 3.5, "clip": true},
                 "encoding": {"x": {"field": "x", "type": "quantitative"}, "y": {"field": "y", "type": "quantitative"}, "order": {"field": "y", "type": "quantitative"}, "color": {"field": "s", "type": "nominal", "scale": {"domain": ["SA", "SA-helicity", "SA-QCR"], "range": ["#22d822", "#ee1111", "#1414e6"]}}}},
                {"transform": [{"filter": "datum.p === 'S1'"}, {"aggregate": [{"op": "count", "as": "n"}]}], "mark": {"type": "rect", "fill": "white", "stroke": "black", "strokeWidth": 3.5}, "encoding": {"x": {"datum": 1.161, "type": "quantitative"}, "x2": {"datum": 1.221}, "y": {"datum": 0.829, "type": "quantitative"}, "y2": {"datum": 0.931}}},
                {"transform": [{"filter": "datum.p === 'S1'"}, {"aggregate": [{"op": "count", "as": "n"}]}], "mark": {"type": "text", "text": "S1", "font": "Liberation Serif", "fontSize": 64, "baseline": "middle", "align": "center", "dy": 2, "color": "black"}, "encoding": {"x": {"datum": 1.191, "type": "quantitative"}, "y": {"datum": 0.88, "type": "quantitative"}}}
              ]
            },
            {
              "width": 281, "height": 701, "data": {"name": "b"},
              "layer": [
                {"transform": [{"filter": "datum.p === 'S2' && datum.s === '实验'"}], "mark": {"type": "point", "filled": true, "size": 260, "opacity": 1, "color": "black", "clip": true},
                 "encoding": {
                   "x": {"field": "x", "type": "quantitative", "scale": {"domain": [1.45, 1.75], "nice": false, "zero": false}, "axis": {"values": [1.45, 1.6, 1.75], "format": ".2f", "title": null}},
                   "y": {"field": "y", "type": "quantitative", "scale": {"domain": [0, 1], "nice": false}, "axis": {"values": [0, 0.2, 0.4, 0.6, 0.8, 1], "labels": false, "title": null}},
                   "shape": {"field": "s", "type": "nominal", "scale": {"domain": ["实验"], "range": ["square"]}}}},
                {"transform": [{"filter": "datum.p === 'S2' && datum.s !== '实验'"}], "mark": {"type": "line", "strokeWidth": 3.5, "clip": true},
                 "encoding": {"x": {"field": "x", "type": "quantitative"}, "y": {"field": "y", "type": "quantitative"}, "order": {"field": "y", "type": "quantitative"}, "color": {"field": "s", "type": "nominal", "scale": {"domain": ["SA", "SA-helicity", "SA-QCR"], "range": ["#22d822", "#ee1111", "#1414e6"]}}}},
                {"transform": [{"filter": "datum.p === 'S2'"}, {"aggregate": [{"op": "count", "as": "n"}]}], "mark": {"type": "rect", "fill": "white", "stroke": "black", "strokeWidth": 3.5}, "encoding": {"x": {"datum": 1.466, "type": "quantitative"}, "x2": {"datum": 1.557}, "y": {"datum": 0.829, "type": "quantitative"}, "y2": {"datum": 0.931}}},
                {"transform": [{"filter": "datum.p === 'S2'"}, {"aggregate": [{"op": "count", "as": "n"}]}], "mark": {"type": "text", "text": "S2", "font": "Liberation Serif", "fontSize": 64, "baseline": "middle", "align": "center", "dy": 2, "color": "black"}, "encoding": {"x": {"datum": 1.5115, "type": "quantitative"}, "y": {"datum": 0.88, "type": "quantitative"}}}
              ]
            },
            {
              "width": 281, "height": 701, "data": {"name": "b"},
              "layer": [
                {"transform": [{"filter": "datum.p === 'S3' && datum.s === '实验'"}], "mark": {"type": "point", "filled": true, "size": 260, "opacity": 1, "color": "black", "clip": true},
                 "encoding": {
                   "x": {"field": "x", "type": "quantitative", "scale": {"domain": [1.8, 2.2], "nice": false, "zero": false}, "axis": {"values": [1.8, 2.0, 2.2], "format": ".1f", "title": null}},
                   "y": {"field": "y", "type": "quantitative", "scale": {"domain": [0, 1], "nice": false}, "axis": {"values": [0, 0.2, 0.4, 0.6, 0.8, 1], "labels": false, "title": null}},
                   "shape": {"field": "s", "type": "nominal", "scale": {"domain": ["实验"], "range": ["square"]}}}},
                {"transform": [{"filter": "datum.p === 'S3' && datum.s !== '实验'"}], "mark": {"type": "line", "strokeWidth": 3.5, "clip": true},
                 "encoding": {"x": {"field": "x", "type": "quantitative"}, "y": {"field": "y", "type": "quantitative"}, "order": {"field": "y", "type": "quantitative"}, "color": {"field": "s", "type": "nominal", "scale": {"domain": ["SA", "SA-helicity", "SA-QCR"], "range": ["#22d822", "#ee1111", "#1414e6"]}}}},
                {"transform": [{"filter": "datum.p === 'S3'"}, {"aggregate": [{"op": "count", "as": "n"}]}], "mark": {"type": "rect", "fill": "white", "stroke": "black", "strokeWidth": 3.5}, "encoding": {"x": {"datum": 1.824, "type": "quantitative"}, "x2": {"datum": 1.945}, "y": {"datum": 0.829, "type": "quantitative"}, "y2": {"datum": 0.931}}},
                {"transform": [{"filter": "datum.p === 'S3'"}, {"aggregate": [{"op": "count", "as": "n"}]}], "mark": {"type": "text", "text": "S3", "font": "Liberation Serif", "fontSize": 64, "baseline": "middle", "align": "center", "dy": 2, "color": "black"}, "encoding": {"x": {"datum": 1.8845, "type": "quantitative"}, "y": {"datum": 0.88, "type": "quantitative"}}}
              ]
            }
          ]
        }
      ]
    }
  ],
  "config": {
    "font": "Liberation Serif, Noto Sans CJK SC",
    "view": {"stroke": "black", "strokeWidth": 4.5},
    "axis": {"domain": false, "grid": true, "gridColor": "#c4c4c4", "gridDash": [12, 6], "gridWidth": 1.5, "ticks": true, "tickSize": -15, "tickWidth": 3.5, "tickColor": "black", "labelFont": "Liberation Serif", "labelFontSize": 62, "labelColor": "black", "labelOverlap": false, "labelFlush": false, "labelBound": false, "titleFont": "Noto Sans CJK SC", "titleFontSize": 60, "titleFontWeight": "normal", "titleColor": "black"},
    "axisX": {"labelPadding": 33, "labelFontSize": 64},
    "axisY": {"labelPadding": 41, "titlePadding": 27},
    "title": {"font": "Liberation Serif, Noto Sans CJK SC", "subtitleFont": "Liberation Serif, Noto Sans CJK SC", "fontSize": 62, "subtitleFontSize": 62, "fontWeight": "normal", "subtitleFontWeight": "normal", "color": "black", "subtitleColor": "black"}
  }
}
